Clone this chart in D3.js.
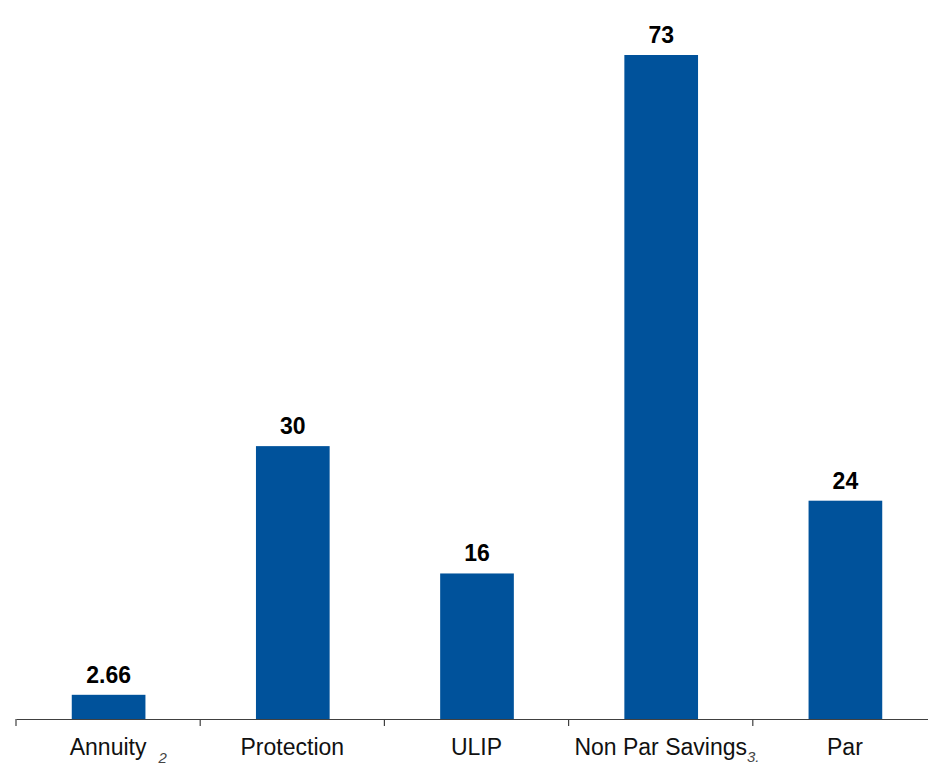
<!DOCTYPE html>
<html>
<head>
	<meta charset="utf-8">
	<title>Product mix</title>
	<style>
	body { margin: 0; background: #fff; }
	svg text { font-family: "Liberation Sans", Arial, sans-serif; }
	</style>
	<script type="text/javascript" src="https://cdn.jsdelivr.net/npm/d3@7"></script>
</head>
<body>
	<script type="text/javascript">

		// data
		let categories = ['Annuity', 'Protection', 'ULIP', 'Non Par Savings', 'Par'];
		let values = [2.66, 30, 16, 73, 24];
		let valueLabels = ['2.66', '30', '16', '73', '24'];
		let footnotes = ['2', '', '', '3.', ''];

		let wsvg = 928, hsvg = 765;
		let axisY = 719;
		let barColor = '#00529b';

		let svg = d3.select('body').append('svg')
					.attr('width', wsvg)
					.attr('height', hsvg);

		let xScale = d3.scaleBand()
						.domain(categories)
						.range([16, 937])
						.padding(0);
		let yScale = d3.scaleLinear()
						.domain([0, d3.max(values)])
						.range([axisY, 55]);

		let barW = xScale.step() * 0.4;

		// bars
		svg.selectAll('rect.bar').data(values).enter().append('rect')
			.attr('class', 'bar')
			.attr('x', function(d, i) { return xScale(categories[i]) + (xScale.bandwidth() - barW) / 2 + 0.5; })
			.attr('y', function(d) { return yScale(d); })
			.attr('width', barW)
			.attr('height', function(d) { return axisY - yScale(d); })
			.attr('fill', barColor);

		// value labels above bars
		svg.selectAll('text.val').data(values).enter().append('text')
			.attr('class', 'val')
			.attr('x', function(d, i) { return xScale(categories[i]) + xScale.bandwidth() / 2 + 0.5; })
			.attr('y', function(d) { return yScale(d) - 12; })
			.attr('text-anchor', 'middle')
			.style('font-size', '23px')
			.style('font-weight', 'bold')
			.attr('fill', '#000')
			.text(function(d, i) { return valueLabels[i]; });

		// x axis, ticks sit on band boundaries
		let xAxis = d3.axisBottom(xScale).tickSize(7).tickSizeOuter(0).tickFormat('');
		let bAxis = svg.append('g')
						.attr('transform', 'translate(0,' + axisY + ')')
						.call(xAxis);
		bAxis.select('.domain').attr('stroke', '#404040').attr('stroke-width', 1.2);
		bAxis.selectAll('.tick line')
			.attr('stroke', '#404040')
			.attr('stroke-width', 1.2)
			.attr('x1', -xScale.step() / 2)
			.attr('x2', -xScale.step() / 2);

		// category labels with footnote marks
		categories.forEach(function(c, i) {
			let cx = xScale(c) + xScale.bandwidth() / 2;
			let t = svg.append('text')
						.attr('x', cx)
						.attr('y', axisY + 36)
						.attr('text-anchor', 'middle')
						.style('font-size', '23px')
						.attr('fill', '#111')
						.text(c);
			if (footnotes[i]) {
				let w = t.node().getComputedTextLength();
				svg.append('text')
					.attr('x', cx + w / 2 + (i == 0 ? 12 : 0))
					.attr('y', axisY + (i == 0 ? 44 : 43))
					.style('font-size', '15px')
					.style('font-style', 'italic')
					.attr('fill', '#444')
					.text(footnotes[i]);
			}
		});

	</script>
</body>
</html>
